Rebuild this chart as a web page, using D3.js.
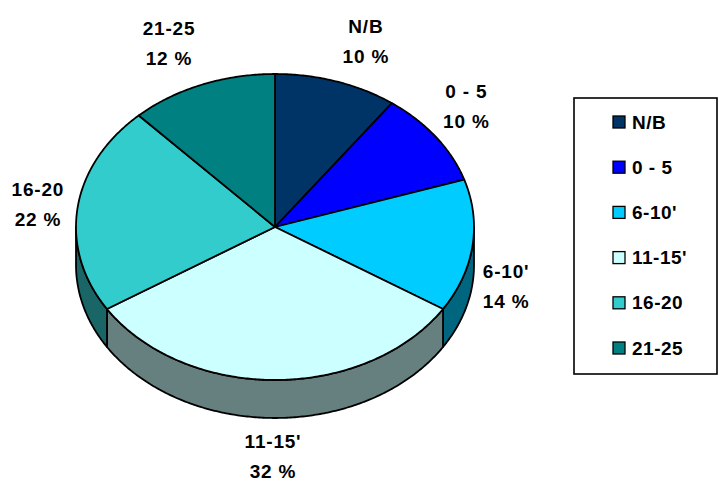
<!DOCTYPE html>
<html><head><meta charset="utf-8">
<script src="https://cdn.jsdelivr.net/npm/d3@7/dist/d3.min.js"></script>
<style>html,body{margin:0;padding:0;background:#fff;}svg{display:block;}</style>
</head><body>
<svg id="chart" width="719" height="482"></svg>
<script>
// ---- data ----
const categories = ["N/B", "0 - 5", "6-10'", "11-15'", "16-20", "21-25"];
const percents   = [10, 10, 14, 32, 22, 12];
const topColors  = ["#003366", "#0000FF", "#00CCFF", "#CCFFFF", "#33CCCC", "#008080"];
const sideColors = ["#001A33", "#000080", "#006680", "#668080", "#1A6666", "#004040"];

// ---- layout ----
const W = 719, H = 482;
const cx = 275, cy = 227, rx = 199, ry = 153, depth = 38;
const labelDx = [17, -2, -6, -2, 0, -18];
const labelDy = [0, -7, -6, -9, 0, -2];

const svg = d3.select("#chart");
const pie = d3.pie().sort(null).value(d => d).startAngle(0).endAngle(2 * Math.PI);
const arcs = pie(percents);

const px = a => cx + rx * Math.sin(a);
const py = (a, dz = 0) => cy - ry * Math.cos(a) + dz;
const line = d3.line();

function arcPts(a0, a1, dz) {
  const n = Math.max(2, Math.ceil(Math.abs(a1 - a0) / 0.01));
  const pts = [];
  for (let i = 0; i <= n; i++) {
    const a = a0 + (a1 - a0) * i / n;
    pts.push([px(a), py(a, dz)]);
  }
  return pts;
}

// sides (front half: angles between PI/2 and 3PI/2)
const gSide = svg.append("g");
arcs.forEach((d, i) => {
  const a0 = Math.max(d.startAngle, Math.PI / 2);
  const a1 = Math.min(d.endAngle, 3 * Math.PI / 2);
  if (a1 <= a0) return;
  const pts = arcPts(a0, a1, 0).concat(arcPts(a1, a0, depth));
  gSide.append("path")
    .attr("d", line(pts) + "Z")
    .attr("fill", sideColors[i])
    .attr("stroke", "#000")
    .attr("stroke-width", 1.8)
    .attr("stroke-linejoin", "round");
});

// top faces
const gTop = svg.append("g");
arcs.forEach((d, i) => {
  const pts = [[cx, cy]].concat(arcPts(d.startAngle, d.endAngle, 0));
  gTop.append("path")
    .attr("d", line(pts) + "Z")
    .attr("fill", topColors[i])
    .attr("stroke", "#000")
    .attr("stroke-width", 1.8)
    .attr("stroke-linejoin", "round");
});

// labels
const gLab = svg.append("g")
  .attr("font-family", "Liberation Sans, Arial, sans-serif")
  .attr("font-weight", "bold")
  .attr("font-size", 19)
  .attr("letter-spacing", 0.8)
  .attr("fill", "#000")
  .attr("text-anchor", "middle");
arcs.forEach((d, i) => {
  const m = (d.startAngle + d.endAngle) / 2;
  const s = Math.sin(m), c = Math.cos(m);
  const x = cx + (rx + 40) * s + labelDx[i];
  const y = cy - (ry + 45) * c + (c < 0 ? depth : 0) + labelDy[i];
  gLab.append("text").attr("x", x).attr("y", y - 6).text(categories[i]);
  gLab.append("text").attr("x", x).attr("y", y + 24).text(percents[i] + " %");
});

// legend
const lg = svg.append("g");
lg.append("rect").attr("x", 574).attr("y", 98).attr("width", 143).attr("height", 276)
  .attr("fill", "#fff").attr("stroke", "#000").attr("stroke-width", 1.6);
const ly = d3.scalePoint().domain(categories).range([122, 348]);
categories.forEach((c, i) => {
  const y = ly(c);
  lg.append("rect").attr("x", 613).attr("y", y - 6).attr("width", 12).attr("height", 12)
    .attr("fill", topColors[i]).attr("stroke", "#000").attr("stroke-width", 1.3);
  lg.append("text").attr("x", 632).attr("y", y + 6.5)
    .attr("font-family", "Liberation Sans, Arial, sans-serif")
    .attr("font-weight", "bold").attr("font-size", 19).attr("letter-spacing", 0.5).text(c);
});
</script>
</body></html>
